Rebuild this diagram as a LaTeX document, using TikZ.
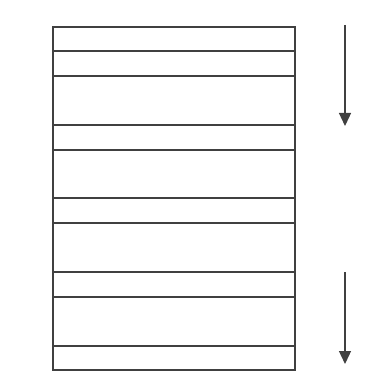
\documentclass[tikz,border=0pt]{standalone}
\usetikzlibrary{arrows.meta}
\begin{document}
\begin{tikzpicture}[x=1pt,y=-1pt,
  rule/.style={draw=black!75,line width=1.5pt},
  flow/.style={draw=black!75,line width=1.3pt,-{Triangle[length=13pt,width=12pt]}}]
\useasboundingbox[fill=white] (0,0) rectangle (377,379);
\draw[rule] (53,27) rectangle (295,370);
\foreach \y in {51,76,125,150,198,223,272,297,346}
  \draw[rule] (53,\y) -- (295,\y);
\coordinate (a1s) at (345,25);
\coordinate (a1e) at (345,126);
\coordinate (a2s) at (345,272);
\coordinate (a2e) at (345,364);
\draw[flow] (a1s) -- (a1e);
\draw[flow] (a2s) -- (a2e);
\end{tikzpicture}
\end{document}
